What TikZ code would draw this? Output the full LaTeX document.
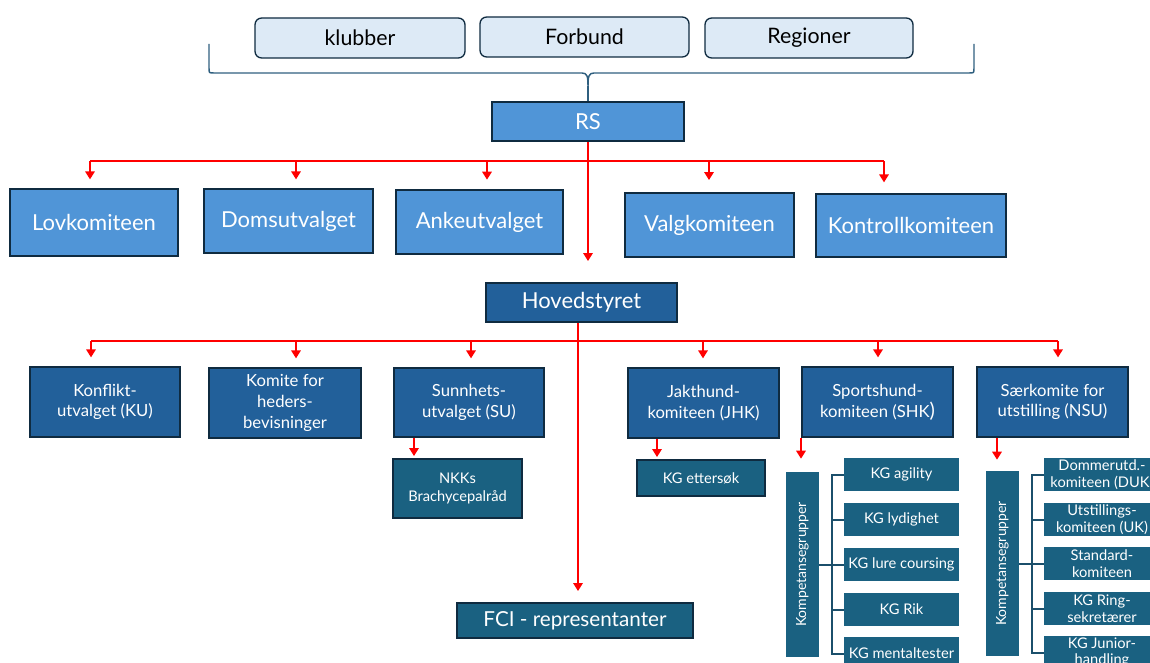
\documentclass[tikz,border=0pt]{standalone}
\usepackage{fontspec}
\setmainfont{Lato}
\usetikzlibrary{arrows.meta}
\definecolor{lightfill}{HTML}{DDEAF6}
\definecolor{midblue}{HTML}{5095D7}
\definecolor{darkblue}{HTML}{22609A}
\definecolor{tealbox}{HTML}{1A6181}
\definecolor{edgecol}{HTML}{0F2B40}
\definecolor{bracecol}{HTML}{2F5F7F}
\definecolor{brkcol}{HTML}{1B4F6B}
\newcommand\bx[7]{\node[#2, minimum width={(#5-(#3))*0.75pt}, minimum height={(#6-(#4))*0.75pt}] (#1) at ({(#3+#5)/2},{(#4+#6)/2}) {#7};}
\tikzset{
  topbox/.style={draw=edgecol, fill=lightfill, rounded corners=5pt, line width=1pt, inner sep=0pt, text=black, font=\fontsize{16}{19}\selectfont},
  lone/.style={draw=edgecol, fill=midblue, line width=1.4pt, inner sep=0pt, text=white, font=\fontsize{16.5}{20}\selectfont},
  ltwo/.style={draw=edgecol, fill=darkblue, line width=1.4pt, inner sep=0pt, text=white, align=center, font=\fontsize{12.5}{15.5}\selectfont},
  subbox/.style={draw=edgecol, fill=tealbox, line width=1.4pt, inner sep=0pt, text=white, align=center, font=\fontsize{11}{14}\selectfont},
  kgbox/.style={fill=tealbox, inner sep=0pt, text=white, align=center, font=\fontsize{11}{12.5}\selectfont},
  kpbox/.style={fill=tealbox, inner sep=0pt},
  redline/.style={draw=red, line width=2.1pt},
  redarr/.style={redline, -{Triangle[width=7pt,length=6pt]}},
  brk/.style={draw=brkcol, line width=1.5pt},
}
\begin{document}
\begin{tikzpicture}[x=0.75pt,y=-0.75pt]
\useasboundingbox (0,0) rectangle (1150,663);
\clip (0,0) rectangle (1150,663);

% top boxes
\bx{kl}{topbox}{255}{18}{465}{58}{klubber}
\bx{fo}{topbox}{480}{17}{689}{57}{Forbund}
\bx{re}{topbox}{705}{18}{913}{58}{Regioner}

\bx{RS}{lone}{492}{102}{684}{141}{RS}

% brace
\coordinate (brtip) at (588,86);
\draw[bracecol, line width=1.1pt] (209,44) -- (209,68) .. controls (209,73) .. (214,73) -- (582,73) .. controls (587,73) and (588,76) .. (brtip)
  .. controls (588,76) and (589,73) .. (594,73) -- (969,73) .. controls (974,73) .. (974,68) -- (974,44);
\draw[bracecol, line width=1.1pt] (brtip) -- (RS.north);

% row 1
\bx{lov}{lone}{10}{189}{178}{256}{Lovkomiteen}
\bx{dom}{lone}{204}{189}{373}{253}{Domsutvalget}
\bx{ank}{lone}{396}{190}{563}{254}{Ankeutvalget}
\bx{val}{lone}{625}{193}{794}{257}{Valgkomiteen}
\bx{kon}{lone}{816}{194}{1006}{257}{Kontrollkomiteen}

\bx{Hov}{ltwo}{486}{283}{677}{322}{\fontsize{16.5}{20}\selectfont Hovedstyret}

% row 2
\bx{ku}{ltwo}{30}{367}{180}{437}{Konflikt-\\utvalget (KU)}
\bx{hed}{ltwo}{209}{368}{361}{438}{Komite for\\heders-\\bevisninger}
\bx{su}{ltwo}{394}{368}{544}{437}{Sunnhets-\\utvalget (SU)}
\bx{jhk}{ltwo}{628}{368}{779}{438}{Jakthund-\\komiteen (JHK)}
\bx{shk}{ltwo}{802}{367}{953}{437}{Sportshund-\\komiteen (SHK{\fontsize{15}{15}\selectfont)}}
\bx{nsu}{ltwo}{977}{367}{1128}{437}{Særkomite for\\utstilling (NSU)}

% sub boxes
\bx{nkk}{subbox}{393}{459}{522}{518}{NKKs\\Brachycepalråd}
\bx{kge}{subbox}{637}{460}{765}{496}{KG ettersøk}
\bx{FCI}{subbox}{457}{603}{693}{638}{\fontsize{15.5}{18}\selectfont FCI - representanter}

\bx{kp1}{kpbox}{786}{472}{819}{657}{}
\node[rotate=90, text=white, font=\fontsize{10.5}{12}\selectfont] (kp1t) at (kp1.center) {Kompetansegrupper};
\bx{kp2}{kpbox}{986}{471}{1019}{656}{}
\node[rotate=90, text=white, font=\fontsize{10.5}{12}\selectfont] (kp2t) at (kp2.center) {Kompetansegrupper};

\bx{ag}{kgbox}{844}{458}{959}{491}{KG agility}
\bx{ly}{kgbox}{844}{503}{959}{536}{KG lydighet}
\bx{lc}{kgbox}{844}{548}{959}{581}{KG lure coursing}
\bx{rik}{kgbox}{844}{593}{959}{626}{KG Rik}
\bx{men}{kgbox}{844}{637}{959}{670}{KG mentaltester}

\bx{duk}{kgbox}{1044}{458}{1160}{491}{Dommerutd.-\\komiteen (DUK)}
\bx{uk}{kgbox}{1044}{503}{1160}{536}{Utstillings-\\komiteen (UK)}
\bx{std}{kgbox}{1044}{547}{1160}{580}{Standard-\\komiteen}
\bx{ring}{kgbox}{1044}{592}{1160}{625}{KG Ring-\\sekretærer}
\bx{jun}{kgbox}{1044}{636}{1160}{669}{KG Junior-\\handling}

% brackets
\coordinate (k1) at (832,0);
\coordinate (k2) at (1032,0);
\draw[brk] (ag.west) -- (ag.west -| k1) -- (men.west -| k1) -- (men.west);
\draw[brk] (ly.west) -- (ly.west -| k1);
\draw[brk] (lc.west) -- (lc.west -| k1);
\draw[brk] (rik.west) -- (rik.west -| k1);
\draw[brk] (kp1.east) -- (kp1.east -| k1);
\draw[brk] (duk.west) -- (duk.west -| k2) -- (jun.west -| k2) -- (jun.west);
\draw[brk] (uk.west) -- (uk.west -| k2);
\draw[brk] (std.west) -- (std.west -| k2);
\draw[brk] (ring.west) -- (ring.west -| k2);
\draw[brk] (kp2.east) -- (kp2.east -| k2);

% red connectors level 1
\coordinate (a1) at (90,161);
\coordinate (a2) at (296,161);
\coordinate (a3) at (487,161);
\coordinate (a4) at (709,161);
\coordinate (a5) at (884,161);
\draw[redline] (a1) -- (a5);
\draw[redarr, shorten >=6.5pt] (a1) -- (a1 |- lov.north);
\draw[redarr, shorten >=6.5pt] (a2) -- (a2 |- dom.north);
\draw[redarr, shorten >=7pt] (a3) -- (a3 |- ank.north);
\draw[redarr, shorten >=9pt] (a4) -- (a4 |- val.north);
\draw[redarr, shorten >=8pt] (a5) -- (a5 |- kon.north);
\draw[redarr, shorten >=15.75pt] (RS.south) -- (RS.south |- Hov.north);

% red connectors level 2
\coordinate (b1) at (91,341);
\coordinate (b2) at (296,341);
\coordinate (b3) at (471,341);
\coordinate (b4) at (703,341);
\coordinate (b5) at (878,341);
\coordinate (b6) at (1058,341);
\draw[redline] (b1) -- (b6);
\draw[redarr, shorten >=6.5pt] (b1) -- (b1 |- ku.north);
\draw[redarr, shorten >=6.5pt] (b2) -- (b2 |- hed.north);
\draw[redarr, shorten >=6.5pt] (b3) -- (b3 |- su.north);
\draw[redarr, shorten >=6.5pt] (b4) -- (b4 |- jhk.north);
\draw[redarr, shorten >=6.5pt] (b5) -- (b5 |- shk.north);
\draw[redarr, shorten >=6.5pt] (b6) -- (b6 |- nsu.north);
\coordinate (hx) at (578,0);
\draw[redarr, shorten >=8.25pt] (Hov.south -| hx) -- (FCI.north -| hx);

% sub connectors
\coordinate (s1) at (414,0);
\coordinate (s2) at (657,0);
\coordinate (s3) at (801,0);
\coordinate (s4) at (997,0);
\draw[redarr, shorten >=1.5pt] (su.south -| s1) -- (nkk.north -| s1);
\draw[redarr, shorten >=1.5pt] (jhk.south -| s2) -- (kge.north -| s2);
\draw[redarr, shorten >=9.75pt] (shk.south -| s3) -- (kp1.north -| s3);
\draw[redarr, shorten >=8.25pt] (nsu.south -| s4) -- (kp2.north -| s4);
\end{tikzpicture}
\end{document}
